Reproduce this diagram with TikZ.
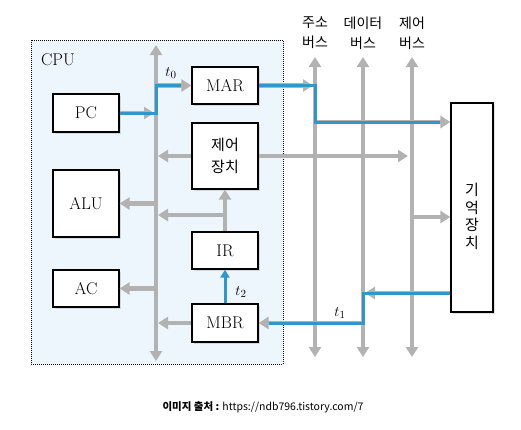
\documentclass[tikz,border=0pt]{standalone}
\usepackage{fontspec}
\newfontfamily\kr{Noto Sans CJK KR}
\usetikzlibrary{arrows.meta,shadows}
\definecolor{busgray}{RGB}{178,178,178}
\definecolor{pathblue}{RGB}{52,150,198}
\definecolor{cpufill}{RGB}{238,246,253}
\tikzset{
  >={Triangle[width=12pt,length=10pt]},
  reg/.style={draw,line width=1.2pt,fill=white,minimum width=66pt,drop shadow={shadow xshift=1.5pt,shadow yshift=-1.5pt,opacity=0.25},font=\fontsize{17}{20}\selectfont},
  bus/.style={draw=busgray,line width=4.5pt},
  blue/.style={draw=pathblue,line width=3pt},
  tlabel/.style={font=\fontsize{15}{17}\selectfont},
  busname/.style={font=\kr\fontsize{14}{20}\selectfont,align=center}
}

\begin{document}
\begin{tikzpicture}[x=1pt,y=-1pt]
\useasboundingbox (0,0) rectangle (521,429);
\node[draw,densely dotted,line width=1pt,fill=cpufill,minimum width=252pt,minimum height=324pt,inner sep=0pt] (cpu) at (157,202) {};
\node[font=\fontsize{17}{20}\selectfont] (cpuname) at (58,60) {CPU};

\node[reg,minimum height=38pt] (pc) at (86,113) {PC};
\node[reg,minimum height=67pt] (alu) at (86,203.5) {ALU};
\node[reg,minimum height=37pt] (ac) at (86,288.5) {AC};
\node[reg,minimum height=37pt] (mar) at (225,85.5) {MAR};
\node[reg,minimum height=66pt,align=center,font=\kr\fontsize{15}{22}\selectfont] (ctrl) at (225,156) {제어\\장치};
\node[reg,minimum height=37pt] (ir) at (225,250.5) {IR};
\node[reg,minimum height=38pt] (mbr) at (225,323) {MBR};
\node[reg,minimum width=42pt,minimum height=209pt,
  label={[align=center,yshift=-9pt,font=\kr\fontsize{15}{17.5}\selectfont]center:기\\억\\장\\치}] (mem) at (472,207.5) {};

\coordinate (ibtop) at (156,45); \coordinate (ibbot) at (156,361);
\coordinate (abtop) at (315,57); \coordinate (abbot) at (315,357);
\coordinate (dbtop) at (363,57); \coordinate (dbbot) at (363,357);
\coordinate (cbtop) at (412,57); \coordinate (cbbot) at (412,357);

\draw[bus,<->] (ibtop) -- (ibbot);
\draw[bus,<->] (abtop) -- (abbot);
\draw[bus,<->] (dbtop) -- (dbbot);
\draw[bus,<->] (cbtop) -- (cbbot);

\draw[bus,->] (pc.east) -- (154,113);
\draw[bus,->] (156,85.5) -- (mar.west);
\draw[bus,->] (mar.east) -- (313,85.5);
\draw[bus,->] (315,122) -- (mem.west |- 0,122);
\draw[bus,->] (ctrl.west) -- (158,156);
\draw[bus,->] (ctrl.east) -- (408,156);
\draw[bus,->] (156,203.5) -- (alu.east);
\draw[bus,->] (ir.north) -- (ctrl.south);
\draw[bus,->] (225,215) -- (158,215);
\draw[bus,->] (156,288.5) -- (ac.east);
\draw[bus,->] (mbr.west) -- (158,323);
\draw[bus,->] (412,217) -- (mem.west |- 0,217);
\draw[bus,->] (mem.west |- 0,293) -- (365,293);
\draw[bus,->] (363,323) -- (mbr.east);

\draw[blue,shorten >=10pt] (pc.east) -- (156,113) -- (156,85.5) -- (mar.west);
\draw[blue,shorten >=10pt] (mar.east) -- (315,85.5) -- (315,122) -- (mem.west |- 0,122);
\draw[blue,shorten >=10pt] (mem.west |- 0,293) -- (363,293) -- (363,323) -- (mbr.east);
\draw[blue,-{Triangle[width=9pt,length=8pt]}] (mbr.north) -- (ir.south);

\node[tlabel] (t0) at (171,73) {$t_0$};
\node[tlabel] (t1) at (340,313) {$t_1$};
\node[tlabel] (t2) at (241,292) {$t_2$};

\node[busname] (abname) at (315,33) {주소\\버스};
\node[busname] (dbname) at (363,33) {데이터\\버스};
\node[busname] (cbname) at (412,33) {제어\\버스};

\node[font=\kr\fontsize{10.5}{12}\selectfont] (source) at (263,407) {\textbf{이미지 출처 :} https://ndb796.tistory.com/7};
\end{tikzpicture}
\end{document}
